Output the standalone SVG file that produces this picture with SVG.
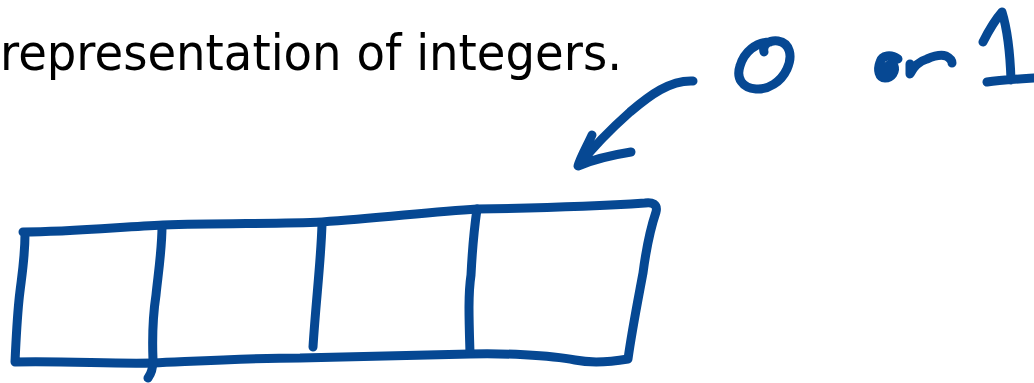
<svg xmlns="http://www.w3.org/2000/svg" width="1034" height="383" viewBox="0 0 1034 383">
<style>
.ink{fill:none;stroke:#064893;stroke-width:9;stroke-linecap:round;stroke-linejoin:round}
.t{font-family:"DejaVu Sans","Liberation Sans",sans-serif;font-size:50px;fill:#000}
</style>
<rect width="1034" height="383" fill="#fff"/>
<text class="t" x="0" y="70" textLength="622" lengthAdjust="spacingAndGlyphs">representation of integers.</text>
<g id="label">
<path class="ink" d="M764,52 C762,44 770,40 778,41 C790,43 793,56 787,69 C781,82 768,90 756,89 C742,88 736,78 740,66 C744,52 756,42 770,42"/>
<path class="ink" d="M898,59 C891,54 882,55 880,62 C877,70 879,78 885,78 C892,78 896,71 894,66 C892,63 888,64 886,69"/>
<path class="ink" d="M910,64 L910,74 C914,66 920,61 927,59 C934,56 940,54 946,56 C950,58 952,61 952,63"/>
<path class="ink" d="M983,42 C989,30 995,20 1002,12 C1006,25 1010,50 1011,80 M987,82 C1000,80 1018,79 1034,78"/>
</g>
<g id="connectors">
<path class="ink" d="M693,81 C670,80 650,95 630,112 C612,128 594,146 580,164 M592,135 C587,146 580,158 578,166 C592,160 612,155 631,152"/>
</g>
<g id="box">
<path class="ink" d="M23,232 C70,232 120,227 163,225 C220,223 280,224 322,222 C380,218 430,212 477,209 C540,208 600,206 645,203 C652,202 658,204 656,212 C650,230 646,250 643,273 C638,300 632,330 628,359 C610,362 590,363 575,360 C550,355 500,353 470,354 C400,356 350,357 300,358 C250,358 200,361 153,363 C110,364 70,361 15,362 C16,340 17,320 19,300 C21,280 25,260 25,234"/>
<path class="ink" d="M162,226 C162,250 158,275 156,295 C153,315 152,335 153,360 C153,368 151,374 148,378"/>
<path class="ink" d="M322,224 C321,260 316,300 313,347"/>
<path class="ink" d="M477,209 C474,230 472,255 471,275 C468,295 469,320 470,353"/>
</g>
</svg>
